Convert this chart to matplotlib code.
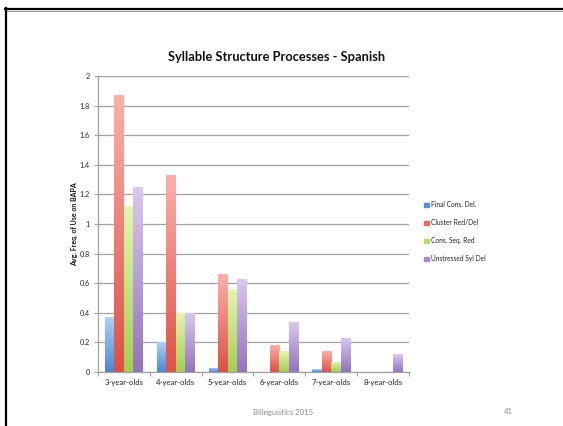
import numpy as np
import matplotlib
matplotlib.use("Agg")
import matplotlib.pyplot as plt
from matplotlib.colors import LinearSegmentedColormap
from matplotlib.lines import Line2D

plt.rcParams['font.family'] = ['Lato', 'DejaVu Sans']

categories = ["3-year-olds", "4-year-olds", "5-year-olds",
              "6-year-olds", "7-year-olds", "8-year-olds"]
series_names = ["Final Cons. Del.", "Cluster Red/Del",
                "Cons. Seq. Red", "Unstressed Syl Del"]
final_cons_del = [0.37, 0.20, 0.03, 0.0, 0.02, 0.0]
cluster_red_del = [1.87, 1.33, 0.66, 0.18, 0.14, 0.0]
cons_seq_red = [1.12, 0.40, 0.56, 0.14, 0.07, 0.0]
unstressed_syl_del = [1.25, 0.40, 0.63, 0.34, 0.23, 0.12]
y_ticks = [0, 0.2, 0.4, 0.6, 0.8, 1, 1.2, 1.4, 1.6, 1.8, 2]
y_tick_labels = ["0", "0.2", "0.4", "0.6", "0.8", "1", "1.2", "1.4", "1.6", "1.8", "2"]

series = [final_cons_del, cluster_red_del, cons_seq_red, unstressed_syl_del]
# (top colour, bottom colour, legend colour)
palette = [("#aed0f6", "#4689d8", "#4f8fdc"),
           ("#fbb0aa", "#de5045", "#ec6a60"),
           ("#e4f6b0", "#a2cf50", "#b5dd6c"),
           ("#dac9ef", "#9472be", "#a888cf")]

W, H = 563, 426
fig = plt.figure(figsize=(W / 100, H / 100), dpi=100)
ax = fig.add_axes([98 / W, 1 - 372 / H, (409 - 98) / W, (372 - 76) / H])

x = np.arange(len(categories))
bw = 0.183
offsets = (np.arange(4) - 1.5) * bw

grad = np.linspace(1, 0, 256).reshape(-1, 1)
for i, vals in enumerate(series):
    top, bot, leg = palette[i]
    cmap = LinearSegmentedColormap.from_list(f"g{i}", [bot, top])
    bars = ax.bar(x + offsets[i], vals, width=bw, color="none",
                  edgecolor="none", zorder=3, label=series_names[i])
    for rect in bars:
        h = rect.get_height()
        if h <= 0:
            continue
        x0 = rect.get_x()
        im = ax.imshow(grad, cmap=cmap, vmin=0, vmax=1, aspect="auto",
                       extent=(x0, x0 + rect.get_width(), 0, h),
                       origin="upper", zorder=3, interpolation="bilinear")
        im.set_clip_path(rect)

ax.set_xlim(-0.5, len(categories) - 0.5)
ax.set_ylim(0, 2)
ax.set_yticks(y_ticks)
ax.set_yticklabels(y_tick_labels)
ax.set_xticks(x)
ax.set_xticklabels(categories)
ax.set_xticks(np.arange(len(categories) + 1) - 0.5, minor=True)

ax.grid(axis="y", color="#a0a0a0", linewidth=0.9, zorder=0)
for s in ["top", "right"]:
    ax.spines[s].set_visible(False)
for s in ["left", "bottom"]:
    ax.spines[s].set_color("#a0a0a0")
    ax.spines[s].set_linewidth(0.9)
    ax.spines[s].set_zorder(4)

ax.tick_params(axis="y", length=3, width=0.8, color="#a0a0a0",
               labelsize=5.2, labelcolor="#222222", pad=3)
ax.tick_params(axis="x", which="major", length=0, labelsize=5.6,
               labelcolor="#222222", pad=5)
ax.tick_params(axis="x", which="minor", length=3, width=0.8, color="#a0a0a0")

ax.set_ylabel("Avg. Freq. of Use on BAPA", fontsize=5, fontweight="bold",
              color="#111111", labelpad=1)

fig.text(277 / W, 1 - 57 / H, "Syllable Structure Processes - Spanish",
         ha="center", va="center", fontsize=9.3, fontweight="bold",
         color="#111111")

# legend
handles = [plt.Rectangle((0, 0), 1, 1, color=p[2]) for p in palette]
leg = fig.legend(handles, series_names, loc="upper left",
                 bbox_to_anchor=(421 / W, 1 - 198 / H), frameon=False,
                 fontsize=4.8, handlelength=0.7, handleheight=0.7,
                 handletextpad=0.3, labelspacing=1.65, borderpad=0)
for t in leg.get_texts():
    t.set_color("#222222")

# slide footer
fig.text(283 / W, 1 - 412 / H, "Bilinguistics 2015", ha="center", va="center",
         fontsize=5.6, color="#8c8c8c")
fig.text(508 / W, 1 - 412 / H, "41", ha="center", va="center",
         fontsize=5.6, color="#8c8c8c")

# slide frame
fig.add_artist(Line2D([5 / W, 1], [1 - 11 / H, 1 - 11 / H],
                      transform=fig.transFigure, color="#9a9a9a", linewidth=0.8))
fig.add_artist(Line2D([5 / W, 1], [1 - 9 / H, 1 - 9 / H],
                      transform=fig.transFigure, color="black", linewidth=1.6))
fig.add_artist(Line2D([6 / W, 6 / W], [0, 1 - 8 / H],
                      transform=fig.transFigure, color="black", linewidth=1.6))

fig.savefig("out.png", dpi=100)
